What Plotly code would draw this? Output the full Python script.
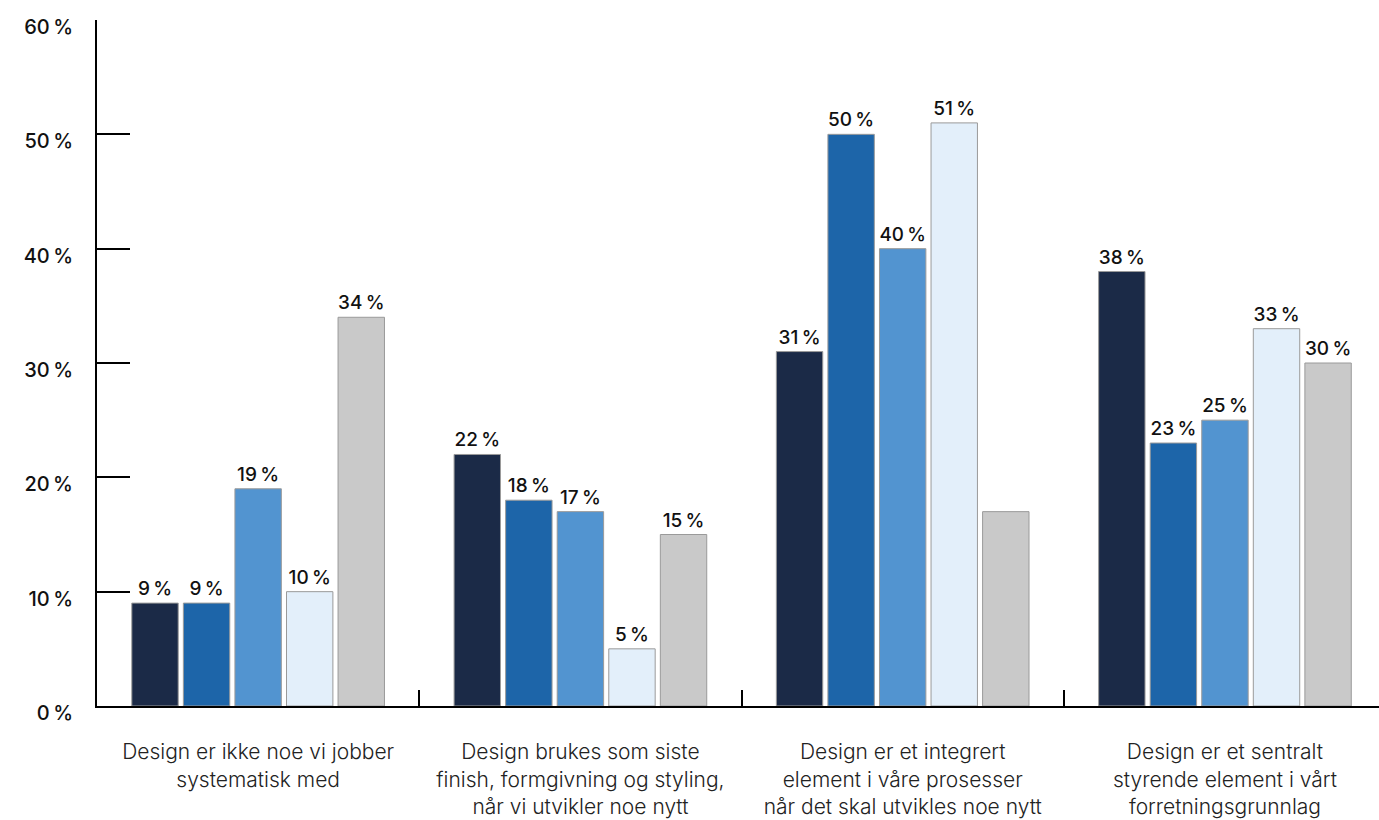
import plotly.graph_objects as go

categories = [
    "Design er ikke noe vi jobber<br>systematisk med",
    "Design brukes som siste<br>finish, formgivning og styling,<br>når vi utvikler noe nytt",
    "Design er et integrert<br>element i våre prosesser<br>når det skal utvikles noe nytt",
    "Design er et sentralt<br>styrende element i vårt<br>forretningsgrunnlag",
]
series_names = ["Serie 1", "Serie 2", "Serie 3", "Serie 4", "Serie 5"]
values = [
    [9, 22, 31, 38],
    [9, 18, 50, 23],
    [19, 17, 40, 25],
    [10, 5, 51, 33],
    [34, 15, 17, 30],
]
show_label = [
    [True, True, True, True],
    [True, True, True, True],
    [True, True, True, True],
    [True, True, True, True],
    [True, True, False, True],
]
colors = ["#1b2a47", "#1d65a9", "#5294d0", "#e3effa", "#c9c9c9"]
y_ticks = [0, 10, 20, 30, 40, 50, 60]
y_ticktext = [f"{v}\u2009%" for v in y_ticks]

FONT = "Inter"

fig = go.Figure()
for name, vals, show, col in zip(series_names, values, show_label, colors):
    fig.add_trace(go.Bar(
        name=name,
        x=categories,
        y=vals,
        text=[f"{v}\u2009%" if s else "" for v, s in zip(vals, show)],
        textposition="outside",
        textfont=dict(family=FONT, size=19, color="#111111", weight=500),
        cliponaxis=False,
        marker=dict(color=col, line=dict(color="#9a9a9a", width=1)),
        hoverinfo="skip",
    ))

fig.update_layout(
    width=1379,
    height=820,
    margin=dict(l=97, r=0, t=20, b=114),
    barmode="group",
    bargap=0.2,
    bargroupgap=0.1,
    showlegend=False,
    plot_bgcolor="white",
    paper_bgcolor="white",
    font=dict(family=FONT, color="#222222"),
)
fig.update_xaxes(
    type="category",
    range=[-0.5, 3.478],
    showline=True,
    linecolor="black",
    linewidth=2,
    ticks="inside",
    tickson="boundaries",
    ticklen=16,
    tickwidth=2,
    tickcolor="black",
    showgrid=False,
    tickfont=dict(family=FONT, size=21, color="#222222", weight=300),
    ticklabelstandoff=26,
)
fig.update_yaxes(
    range=[0, 60],
    tickvals=y_ticks,
    ticktext=y_ticktext,
    ticklabelshift=7,
    showline=True,
    linecolor="black",
    linewidth=2,
    ticks="inside",
    ticklen=33,
    tickwidth=2,
    tickcolor="black",
    showgrid=False,
    zeroline=False,
    tickfont=dict(family=FONT, size=20, color="#111111", weight=500),
    ticklabelstandoff=18,
)

fig.write_html("out.html")
